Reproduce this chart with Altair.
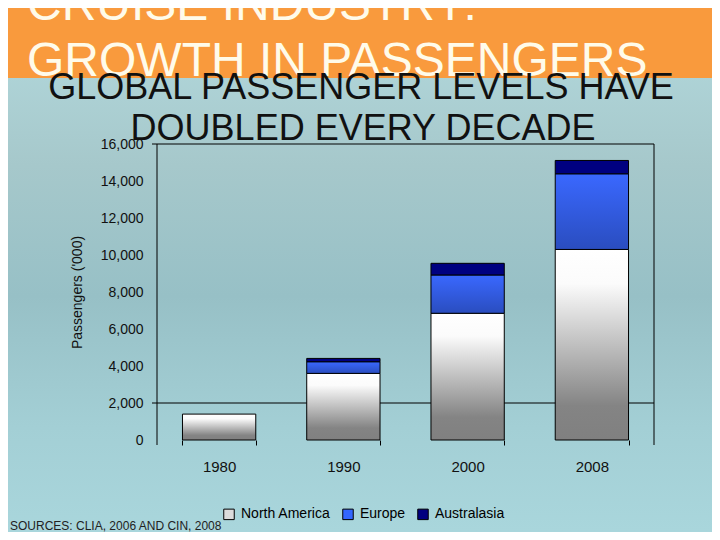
import altair as alt
import pandas as pd

# ---- data ----
years = ["1980", "1990", "2000", "2008"]
regions = ["North America", "Europe", "Australasia"]
north_america = [1400, 3600, 6850, 10300]
europe = [0, 630, 2070, 4090]
australasia = [0, 180, 630, 720]
y_ticks = [0, 2000, 4000, 6000, 8000, 10000, 12000, 14000, 16000]
h_lines = [2000, 16000]

banner_lines = ["CRUISE INDUSTRY:", "GROWTH IN PASSENGERS"]
subtitle_lines = ["GLOBAL PASSENGER LEVELS HAVE", "DOUBLED EVERY DECADE"]
source_text = "SOURCES: CLIA, 2006 AND CIN, 2008"
y_title = "Passengers ('000)"

rows = []
for i, yr in enumerate(years):
    for j, (reg, vals) in enumerate(zip(regions, [north_america, europe, australasia])):
        rows.append({"year": yr, "region": reg, "order": j, "value": vals[i]})
df = pd.DataFrame(rows)

FONT = "Liberation Sans"
W, H = 497, 296
PL, PT = 149, 136
TOTAL_W, TOTAL_H = 704, 524
one = pd.DataFrame({"k": [0]})

x_scale = alt.Scale(domain=years, paddingInner=0.41, paddingOuter=0.205)
y_scale = alt.Scale(domain=[0, 16000], nice=False)

y_axis = alt.Axis(values=y_ticks, format=",d", domain=False, ticks=False, tickSize=0,
                  grid=False, labelFont=FONT, labelFontSize=14,
                  labelColor="#111111", labelPadding=14, labelOverlap=False,
                  labelFlush=False,
                  titleFont=FONT, titleFontSize=14, titleFontWeight="normal",
                  titleColor="#111111", titlePadding=16, zindex=1)
x_axis = alt.Axis(domain=False, ticks=True, tickBand="extent", tickSize=5,
                  tickColor="black", labelAngle=0, labelFont=FONT,
                  labelFontSize=15, labelColor="#111111", labelPadding=14,
                  zindex=1)

# ---- decorative background ----
bg = alt.Chart(one).mark_rect(
    fill=alt.Gradient(
        gradient="linear",
        stops=[
            alt.GradientStop(color="#b4dbdf", offset=0),
            alt.GradientStop(color="#a6c8cb", offset=0.3),
            alt.GradientStop(color="#97c0c6", offset=0.55),
            alt.GradientStop(color="#a3cfd5", offset=0.8),
            alt.GradientStop(color="#a9d6dc", offset=1),
        ],
        x1=0, x2=0, y1=0, y2=1,
    )
).encode(x=alt.value(-PL), x2=alt.value(TOTAL_W - PL),
         y=alt.value(-PT), y2=alt.value(TOTAL_H - PT))

banner = alt.Chart(one).mark_rect(fill="#f99a3d").encode(
    x=alt.value(-PL), x2=alt.value(TOTAL_W - PL),
    y=alt.value(-PT), y2=alt.value(-66))

b1 = alt.Chart(one).mark_text(text=banner_lines[0], font=FONT, fontSize=48, color="#fffbea",
                              align="left", baseline="alphabetic").encode(
    x=alt.value(-130), y=alt.value(-124))
b2 = alt.Chart(one).mark_text(text=banner_lines[1], font=FONT, fontSize=48, color="#fffbea",
                              align="left", baseline="alphabetic").encode(
    x=alt.value(-130), y=alt.value(-68))
s1 = alt.Chart(one).mark_text(text=subtitle_lines[0], font=FONT, fontSize=36, color="#111111",
                              align="center", baseline="alphabetic").encode(
    x=alt.value(204), y=alt.value(-45))
s2 = alt.Chart(one).mark_text(text=subtitle_lines[1], font=FONT, fontSize=36, color="#111111",
                              align="center", baseline="alphabetic").encode(
    x=alt.value(206), y=alt.value(-4))
src = alt.Chart(one).mark_text(text=source_text, font=FONT, fontSize=12, color="#222222",
                               align="left", baseline="alphabetic").encode(
    x=alt.value(-147), y=alt.value(386))

# ---- frame lines ----
h_rules = alt.Chart(pd.DataFrame({"v": h_lines})).mark_rule(color="black", strokeWidth=1).encode(
    y=alt.Y("v:Q", scale=y_scale, axis=y_axis, title=y_title),
    x=alt.value(-5), x2=alt.value(W))
left_rule = alt.Chart(one).mark_rule(color="black", strokeWidth=1).encode(
    x=alt.value(0), y=alt.value(0), y2=alt.value(H + 5))
right_rule = alt.Chart(one).mark_rule(color="black", strokeWidth=1).encode(
    x=alt.value(W), y=alt.value(0), y2=alt.value(H + 5))

# ---- bars ----
base = alt.Chart(df).transform_stack(
    stack="value", groupby=["year"], as_=["y0", "y1"],
    sort=[alt.SortField("order", order="ascending")]
)

x_enc = alt.X("year:N", scale=x_scale, sort=years, title=None, axis=x_axis)
y_enc = alt.Y("y1:Q", scale=y_scale, title=y_title, axis=y_axis)

def bar_layer(region, fill):
    return base.transform_filter(
        (alt.datum.region == region) & (alt.datum.value > 0)
    ).mark_bar(fill=fill, stroke="black", strokeWidth=1).encode(
        x=x_enc, y=y_enc, y2="y0:Q")

na_fill = alt.Gradient(gradient="linear", stops=[
    alt.GradientStop(color="#ffffff", offset=0),
    alt.GradientStop(color="#fbfbfb", offset=0.18),
    alt.GradientStop(color="#848484", offset=0.82),
    alt.GradientStop(color="#808080", offset=1)], x1=0, x2=0, y1=0, y2=1)
eu_fill = alt.Gradient(gradient="linear", stops=[
    alt.GradientStop(color="#3a68ff", offset=0),
    alt.GradientStop(color="#2a4dbf", offset=1)], x1=0, x2=0, y1=0, y2=1)

bars_na = bar_layer("North America", na_fill)
bars_eu = bar_layer("Europe", eu_fill)
bars_au = bar_layer("Australasia", "#000080")

legend_layer = base.mark_square(opacity=0).encode(
    x=x_enc, y=y_enc,
    color=alt.Color("region:N",
                    scale=alt.Scale(domain=regions, range=["#dcdcdc", "#3366ff", "#000080"]),
                    legend=alt.Legend(title=None, orient="none", direction="horizontal",
                                      columns=3, legendX=65, legendY=363,
                                      symbolType="square", symbolSize=110,
                                      symbolOpacity=1, symbolStrokeColor="black",
                                      symbolStrokeWidth=1, labelFont=FONT,
                                      labelFontSize=14, labelColor="#000000",
                                      labelOffset=5, columnPadding=9, padding=0,
                                      zindex=1)))

chart = alt.layer(
    bg, banner, b1, b2, s1, s2, src,
    h_rules, left_rule, right_rule,
    bars_na, bars_eu, bars_au, legend_layer
).properties(
    width=W, height=H,
    autosize=alt.AutoSizeParams(type="none"),
    padding={"left": PL, "top": PT, "right": TOTAL_W - PL - W, "bottom": TOTAL_H - PT - H},
    background="#a9d2d7",
).configure_view(stroke=None)

chart.save("out.html", embed_options={"renderer": "svg", "actions": False})
